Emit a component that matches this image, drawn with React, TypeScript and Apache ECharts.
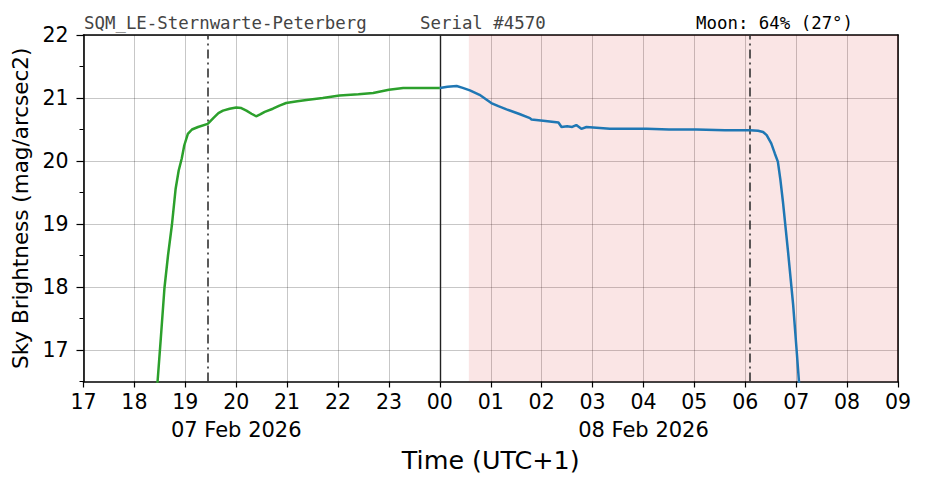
import React, { useEffect, useRef } from "react";
import * as echarts from "echarts";

// Hours since 00:00 of 07 Feb 2026 (local UTC+1), value in mag/arcsec2
const eveningSeries: [number, number][] = [
  [18.4, 16.3], [18.455, 16.5], [18.52, 17.2], [18.59, 17.98], [18.66, 18.5],
  [18.736, 18.98], [18.81, 19.56], [18.87, 19.85], [18.93, 20.04], [18.98, 20.25],
  [19.05, 20.43], [19.13, 20.5], [19.25, 20.54], [19.44, 20.59], [19.55, 20.68],
  [19.65, 20.76], [19.74, 20.8], [19.87, 20.83], [20.0, 20.85], [20.1, 20.84],
  [20.2, 20.8], [20.3, 20.75], [20.39, 20.71], [20.47, 20.74], [20.56, 20.78],
  [20.72, 20.83], [20.85, 20.88], [20.98, 20.92], [21.2, 20.95], [21.38, 20.97],
  [21.7, 21.0], [22.03, 21.04], [22.4, 21.06], [22.69, 21.08], [23.0, 21.13],
  [23.28, 21.16], [23.6, 21.16], [24.0, 21.16],
];

const morningSeries: [number, number][] = [
  [24.0, 21.16], [24.15, 21.18], [24.33, 21.19], [24.45, 21.16], [24.59, 21.12],
  [24.78, 21.05], [25.01, 20.92], [25.15, 20.87], [25.31, 20.82], [25.55, 20.75],
  [25.77, 20.68], [25.8, 20.66], [26.03, 20.64], [26.33, 20.61], [26.39, 20.54],
  [26.5, 20.55], [26.6, 20.54], [26.68, 20.57], [26.78, 20.51], [26.88, 20.54],
  [27.34, 20.51], [27.7, 20.51], [28.06, 20.51], [28.5, 20.5], [29.04, 20.5],
  [29.6, 20.49], [30.09, 20.49], [30.25, 20.48], [30.35, 20.46], [30.42, 20.41],
  [30.51, 20.28], [30.58, 20.12], [30.64, 19.99], [30.69, 19.7], [30.74, 19.35],
  [30.84, 18.56], [30.94, 17.72], [31.01, 16.98], [31.05, 16.55], [31.07, 16.3],
];

const xMin = 17;
const xMax = 33;
const yMin = 16.5;
const yMax = 22;
const yLabelValues = [17, 18, 19, 20, 21, 22];
const dateTickValues = [20, 28];
const dateTickLabels = ["07 Feb 2026", "08 Feb 2026"];
const midnight = 24;
const twilightLines = [19.44, 30.09];
const moonUpFrom = 24.57;

const headerLeft = "SQM_LE-Sternwarte-Peterberg";
const headerMid = "Serial #4570";
const headerRight = "Moon: 64% (27°)";

const SANS = "DejaVu Sans";
const MONO = "DejaVu Sans Mono";
const TICK_FONT = 20.5;

export default function App() {
  const ref = useRef<HTMLDivElement>(null);

  useEffect(() => {
    if (!ref.current) return;
    const chart = echarts.init(ref.current, undefined, { renderer: "svg" });
    const gridLine = { show: true, lineStyle: { color: "rgba(0,0,0,0.28)", width: 0.8 } };
    const headerStyle = { fontFamily: MONO, fontSize: 17.4, fontWeight: "normal" as const, color: "#444444" };
    const option: echarts.EChartsOption = {
      animation: false,
      backgroundColor: "#ffffff",
      title: [
        { text: headerLeft, left: 84, top: 14, padding: 0, textStyle: headerStyle },
        { text: headerMid, left: 420, top: 14, padding: 0, textStyle: headerStyle },
        { text: headerRight, left: 696, top: 14, padding: 0, textStyle: { ...headerStyle, color: "#000000" } },
      ],
      grid: { left: 83.5, top: 35, width: 814.5, height: 346.5, containLabel: false, show: false },
      xAxis: [
        {
          type: "value",
          min: xMin,
          max: xMax,
          interval: 1,
          name: "Time (UTC+1)",
          nameLocation: "middle",
          nameGap: 66,
          nameTextStyle: { fontFamily: SANS, fontSize: 25.4, color: "#000" },
          axisLine: { show: true, onZero: false, lineStyle: { color: "#000", width: 1.6 } },
          axisTick: { show: true, length: 6, lineStyle: { color: "#000", width: 1.2 } },
          axisLabel: {
            fontFamily: SANS, fontSize: TICK_FONT, color: "#000", margin: 10,
            formatter: (v: number) => String(Math.round(v) % 24).padStart(2, "0"),
          },
          splitLine: gridLine,
        },
        {
          type: "value",
          min: xMin,
          max: xMax,
          position: "bottom",
          axisLine: { show: false },
          axisTick: { show: false },
          splitLine: { show: false },
          axisLabel: {
            fontFamily: SANS, fontSize: 21, color: "#000", margin: 38,
            customValues: dateTickValues,
            formatter: (v: number) => dateTickLabels[dateTickValues.indexOf(Math.round(v))] ?? "",
          },
        },
        {
          type: "value",
          min: xMin,
          max: xMax,
          position: "top",
          axisLine: { show: true, onZero: false, lineStyle: { color: "#000", width: 1.6 } },
          axisTick: { show: false },
          axisLabel: { show: false },
          splitLine: { show: false },
        },
      ],
      yAxis: [
        {
          type: "value",
          min: yMin,
          max: yMax,
          interval: 0.5,
          name: "Sky Brightness (mag/arcsec2)",
          nameLocation: "middle",
          nameGap: 52,
          nameRotate: 90,
          nameTextStyle: { fontFamily: SANS, fontSize: 21.5, color: "#000" },
          axisLine: { show: true, onZero: false, lineStyle: { color: "#000", width: 1.6 } },
          axisTick: { show: true, length: 7, customValues: yLabelValues, lineStyle: { color: "#000", width: 1.2 } },
          axisLabel: {
            fontFamily: SANS, fontSize: TICK_FONT, color: "#000", margin: 15,
            customValues: yLabelValues,
            formatter: (v: number) => String(Math.round(v)),
          },
          splitLine: gridLine,
        },
        {
          type: "value",
          min: yMin,
          max: yMax,
          interval: 0.5,
          position: "left",
          axisLine: { show: false },
          axisTick: { show: true, length: 4, lineStyle: { color: "#000", width: 1 } },
          axisLabel: { show: false },
          splitLine: { show: false },
        },
        {
          type: "value",
          min: yMin,
          max: yMax,
          position: "right",
          axisLine: { show: true, onZero: false, lineStyle: { color: "#000", width: 1.6 } },
          axisTick: { show: false },
          axisLabel: { show: false },
          splitLine: { show: false },
        },
      ],
      series: [
        {
          type: "line",
          name: "evening",
          data: eveningSeries,
          showSymbol: false,
          smooth: false,
          clip: true,
          lineStyle: { color: "#2ca02c", width: 2.5 },
          itemStyle: { color: "#2ca02c" },
          z: 5,
          markArea: {
            silent: true,
            itemStyle: { color: "rgba(214,39,40,0.12)" },
            data: [[{ xAxis: moonUpFrom }, { xAxis: xMax }]],
          },
          markLine: {
            silent: true,
            symbol: ["none", "none"],
            label: { show: false },
            data: [
              { xAxis: midnight, lineStyle: { color: "#222", width: 1.4, type: "solid" } },
              ...twilightLines.map((x) => ({
                xAxis: x,
                lineStyle: { color: "#333", width: 1.6, type: [9, 4, 2, 4] as any },
              })),
            ],
          },
        },
        {
          type: "line",
          name: "morning",
          data: morningSeries,
          showSymbol: false,
          smooth: false,
          clip: true,
          lineStyle: { color: "#1f77b4", width: 2.5 },
          itemStyle: { color: "#1f77b4" },
          z: 5,
        },
      ],
    };
    chart.setOption(option);
    return () => chart.dispose();
  }, []);

  return (
    <div
      ref={ref}
      style={{ position: "fixed", left: 0, top: 0, width: 926, height: 488, background: "#fff" }}
    />
  );
}
